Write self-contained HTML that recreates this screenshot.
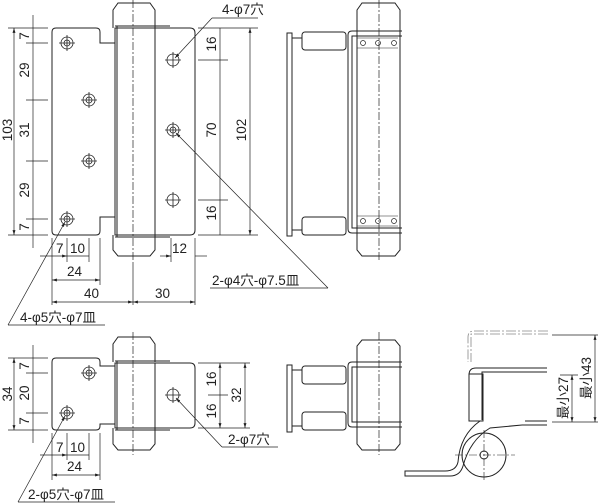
<!DOCTYPE html>
<html><head><meta charset="utf-8"><style>
html,body{margin:0;padding:0;background:#fff;width:600px;height:503px;overflow:hidden}
svg{display:block}
text{font-family:"Liberation Sans","Noto Sans CJK JP",sans-serif;fill:#222;font-size:13.5px}
</style></head><body>
<svg width="600" height="503" viewBox="0 0 600 503" xmlns="http://www.w3.org/2000/svg">
<defs>
<marker id="a" viewBox="0 0 10 10" refX="10" refY="5" markerWidth="7" markerHeight="7" orient="auto-start-reverse"><path d="M0,2 L10,5 L0,8z" fill="#222"/></marker>
</defs>
<g fill="none" stroke="#222" stroke-width="1">
<!-- TOP FRONT VIEW -->
<path d="M113,28 V10 L118,3 H150 L155,10 V28 M113,235 V250 L118,256 H150 L155,250 V235" fill="#fff"/>
<path d="M56,28 H96 Q100,28 100,32 V43 H115 V217 H100 V231 Q100,235 96,235 H56 Q52,235 52,231 V32 Q52,28 56,28Z" fill="#fff"/>
<path d="M117,28 H190 Q195,28 195,33 V230 Q195,235 190,235 H117 Z" fill="#fff"/>
<rect x="115" y="28" width="40" height="207" fill="#fff"/>
<path d="M115,26 H170 M115,237 H170 M117,26 V237"/>
<line x1="155" y1="28" x2="155" y2="235"/>
<line x1="133" y1="0" x2="133" y2="262" stroke-dasharray="8,2,2,2" stroke-width="0.7"/>
<g stroke-width="0.8">
<circle cx="67" cy="43" r="6"/><circle cx="67" cy="43" r="3"/>
<circle cx="89" cy="100" r="6"/><circle cx="89" cy="100" r="3"/>
<circle cx="89" cy="161" r="6"/><circle cx="89" cy="161" r="3"/>
<circle cx="67" cy="219" r="6"/><circle cx="67" cy="219" r="3"/>
<circle cx="173" cy="60" r="6"/><circle cx="173" cy="130" r="6"/><circle cx="173" cy="130" r="3"/><circle cx="173" cy="200" r="6"/>
<path d="M59,43H75M67,35V51M81,100H97M89,92V108M81,161H97M89,153V169M59,219H75M67,211V227M165,60H181M173,52V68M165,130H181M173,122V138M165,200H181M173,192V208"/>
</g>
<g stroke-width="0.7">
<path d="M8,28H48M8,235H48M26,43H48M26,100H48M26,161H48M26,219H48"/>
<line x1="14" y1="28" x2="14" y2="235" marker-start="url(#a)" marker-end="url(#a)"/>
<line x1="33" y1="15" x2="33" y2="248"/>
<path d="M198,28H258M198,235H258M198,60H228M198,200H228"/>
<line x1="220" y1="28" x2="220" y2="235"/>
<line x1="250" y1="28" x2="250" y2="235" marker-start="url(#a)" marker-end="url(#a)"/>
<path d="M52,238V305M67,238V262M89,238V262M100,238V285M133,262V305M195,238V305M171,238V262"/>
<line x1="40" y1="256" x2="67" y2="256" marker-end="url(#a)"/>
<line x1="89" y1="256" x2="67" y2="256"/>
<line x1="52" y1="280" x2="100" y2="280" marker-start="url(#a)" marker-end="url(#a)"/>
<line x1="52" y1="302" x2="133" y2="302" marker-start="url(#a)" marker-end="url(#a)"/>
<line x1="133" y1="302" x2="195" y2="302" marker-start="url(#a)" marker-end="url(#a)"/>
<line x1="160" y1="256" x2="171" y2="256" marker-end="url(#a)"/>
<line x1="195" y1="256" x2="207" y2="256"/>
<path d="M212,18H258"/><line x1="212" y1="18" x2="175" y2="58" marker-end="url(#a)"/>
<path d="M210,288H328"/><line x1="328" y1="288" x2="176" y2="133" marker-end="url(#a)"/>
<path d="M8,325H105"/><line x1="8" y1="325" x2="65" y2="222" marker-end="url(#a)"/>
</g>
<!-- TOP SIDE VIEW -->
<rect x="287" y="33" width="5" height="203"/>
<path d="M292,38H302M292,230H302"/>
<rect x="302" y="32" width="44" height="18" rx="3"/>
<rect x="302" y="217" width="44" height="18" rx="3"/>
<path d="M357,28V10L362,3H395L400,10V28M357,235V250L362,256H395L400,250V235"/>
<path d="M357,28V235M400,28V235"/>
<path d="M402,31H352Q348,31 348,35V229Q348,233 352,233H402M402,36H352V228H402"/>
<path d="M357,38H398M357,48H398M357,216H398M357,226H398" stroke-width="0.6"/>
<g stroke-width="0.7"><circle cx="363" cy="43" r="2.5"/><circle cx="378" cy="43" r="2.5"/><circle cx="394" cy="43" r="2.5"/><circle cx="363" cy="221" r="2.5"/><circle cx="378" cy="221" r="2.5"/><circle cx="394" cy="221" r="2.5"/></g>
<line x1="379" y1="0" x2="379" y2="262" stroke-dasharray="8,2,2,2" stroke-width="0.7"/>
<!-- BOTTOM FRONT VIEW -->
<path d="M113,362V344L118,337H150L155,344V362M113,428V444L118,450H150L155,444V428" fill="#fff"/>
<path d="M56,358H96Q100,358 100,362V366H115V424H100V426Q100,430 96,430H56Q52,430 52,426V362Q52,358 56,358Z" fill="#fff"/>
<path d="M117,363H190Q195,363 195,368V423Q195,428 190,428H117Z" fill="#fff"/>
<rect x="115" y="363" width="40" height="65" fill="#fff"/>
<path d="M115,361H170M115,430H170M117,361V430"/>
<line x1="133" y1="332" x2="133" y2="455" stroke-dasharray="8,2,2,2" stroke-width="0.7"/>
<g stroke-width="0.8">
<circle cx="89" cy="373" r="6"/><circle cx="89" cy="373" r="3"/>
<circle cx="67" cy="413" r="6"/><circle cx="67" cy="413" r="3"/>
<circle cx="173" cy="395" r="6"/>
<path d="M81,373H97M89,365V381M59,413H75M67,405V421M165,395H181M173,387V403"/>
</g>
<g stroke-width="0.7">
<path d="M8,358H48M8,430H48M26,373H48M26,413H48"/>
<line x1="14" y1="358" x2="14" y2="430" marker-start="url(#a)" marker-end="url(#a)"/>
<line x1="33" y1="345" x2="33" y2="443"/>
<path d="M198,363H250M198,428H250M208,395H228"/>
<line x1="220" y1="363" x2="220" y2="428" marker-start="url(#a)" marker-end="url(#a)"/>
<line x1="245" y1="363" x2="245" y2="428" marker-start="url(#a)" marker-end="url(#a)"/>
<path d="M52,433V480M67,433V460M89,433V460M100,433V480"/>
<line x1="40" y1="455" x2="67" y2="455" marker-end="url(#a)"/>
<line x1="89" y1="455" x2="67" y2="455"/>
<line x1="52" y1="475" x2="100" y2="475" marker-start="url(#a)" marker-end="url(#a)"/>
<path d="M222,447H278"/><line x1="222" y1="447" x2="176" y2="398" marker-end="url(#a)"/>
<path d="M18,502H115"/><line x1="18" y1="502" x2="65" y2="416" marker-end="url(#a)"/>
</g>
<!-- BOTTOM SIDE VIEW -->
<rect x="287" y="365" width="5" height="67"/>
<path d="M292,370H302M292,426H302"/>
<rect x="302" y="366" width="44" height="18" rx="3"/>
<rect x="302" y="412" width="44" height="18" rx="3"/>
<path d="M357,362V346L362,340H395L400,346V362M357,428V444L362,450H395L400,444V428M357,362V428M400,362V428"/>
<path d="M402,362H352Q348,362 348,366V423Q348,427 352,427H402M402,367H352V422H402"/>
<line x1="379" y1="332" x2="379" y2="455" stroke-dasharray="8,2,2,2" stroke-width="0.7"/>
<!-- SECTION VIEW -->
<path d="M548,331H474Q468,331 468,337V362M548,334H471V362" stroke-dasharray="10,2,2,2" stroke-width="0.8" stroke="#888"/>
<path d="M547,368H476Q469,368 469,375V421M547,372H482V420M547,421H525M547,425H522"/>
<rect x="469" y="374" width="14" height="47"/>
<path d="M480,421 Q460,435 458,462 Q456,471 445,471 H405 V476 H450 Q460,476 463,466 Q470,440 490,428 L522,425"/>
<circle cx="484" cy="455" r="22"/><circle cx="484" cy="455" r="4"/>
<path d="M455,455H515M484,430V482" stroke-dasharray="8,2,2,2" stroke-width="0.6"/>
<g stroke-width="0.7">
<path d="M552,335H598M552,422H598M560,375H578"/>
<line x1="572" y1="375" x2="572" y2="422" marker-start="url(#a)" marker-end="url(#a)"/>
<line x1="595" y1="335" x2="595" y2="422" marker-start="url(#a)" marker-end="url(#a)"/>
</g>
</g>
<g>
<text x="12" y="130" transform="rotate(-90 12 130)" text-anchor="middle">103</text>
<text x="31" y="36" transform="rotate(-90 31 36)" text-anchor="middle" dy="-2">7</text>
<text x="31" y="70" transform="rotate(-90 31 70)" text-anchor="middle" dy="-2">29</text>
<text x="31" y="130" transform="rotate(-90 31 130)" text-anchor="middle" dy="-2">31</text>
<text x="31" y="190" transform="rotate(-90 31 190)" text-anchor="middle" dy="-2">29</text>
<text x="31" y="227" transform="rotate(-90 31 227)" text-anchor="middle" dy="-2">7</text>
<text x="218" y="44" transform="rotate(-90 218 44)" text-anchor="middle" dy="-2">16</text>
<text x="218" y="130" transform="rotate(-90 218 130)" text-anchor="middle" dy="-2">70</text>
<text x="218" y="213" transform="rotate(-90 218 213)" text-anchor="middle" dy="-2">16</text>
<text x="248" y="130" transform="rotate(-90 248 130)" text-anchor="middle" dy="-2">102</text>
<text x="56" y="253">7</text><text x="70" y="253">10</text>
<text x="67" y="276">24</text><text x="84" y="298">40</text><text x="155" y="298">30</text>
<text x="172" y="253">12</text>
<text x="222" y="14">4-φ7穴</text>
<text x="212" y="285">2-φ4穴-φ7.5皿</text>
<text x="20" y="322">4-φ5穴-φ7皿</text>
<text x="12" y="394" transform="rotate(-90 12 394)" text-anchor="middle">34</text>
<text x="31" y="366" transform="rotate(-90 31 366)" text-anchor="middle" dy="-2">7</text>
<text x="31" y="393" transform="rotate(-90 31 393)" text-anchor="middle" dy="-2">20</text>
<text x="31" y="421" transform="rotate(-90 31 421)" text-anchor="middle" dy="-2">7</text>
<text x="218" y="379" transform="rotate(-90 218 379)" text-anchor="middle" dy="-2">16</text>
<text x="218" y="411" transform="rotate(-90 218 411)" text-anchor="middle" dy="-2">16</text>
<text x="243" y="395" transform="rotate(-90 243 395)" text-anchor="middle" dy="-2">32</text>
<text x="56" y="452">7</text><text x="70" y="452">10</text>
<text x="67" y="471">24</text>
<text x="228" y="444">2-φ7穴</text>
<text x="28" y="499">2-φ5穴-φ7皿</text>
<text x="570" y="398" transform="rotate(-90 570 398)" text-anchor="middle" dy="-2" font-size="12">最小27</text>
<text x="593" y="378" transform="rotate(-90 593 378)" text-anchor="middle" dy="-2" font-size="12">最小43</text>
</g>
</svg>
</body></html>
